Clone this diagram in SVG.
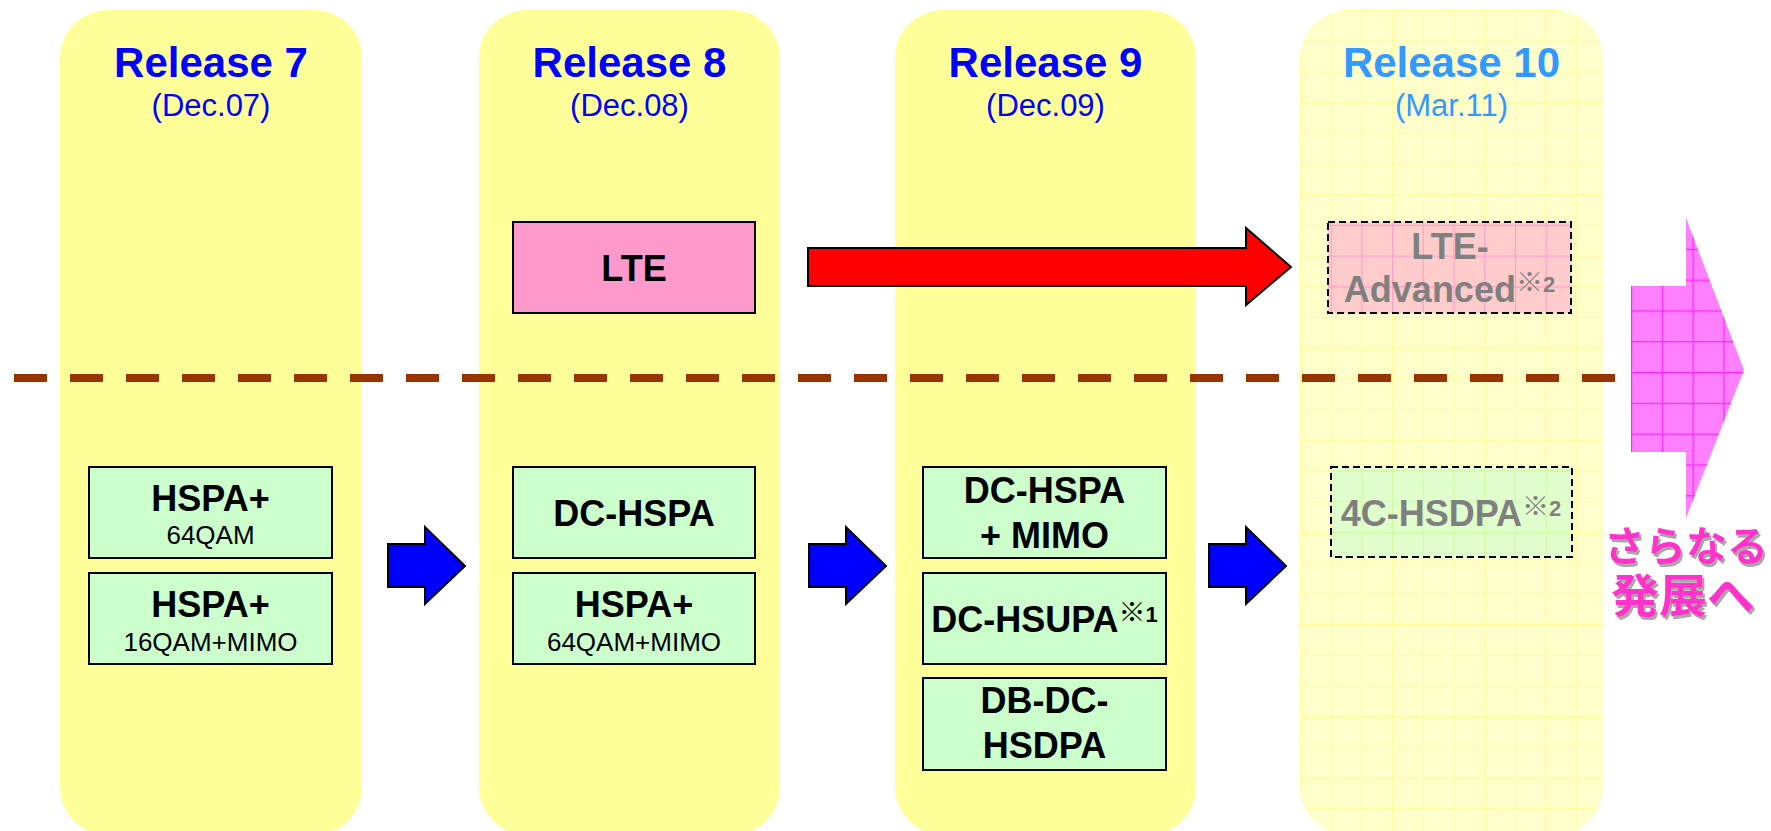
<svg xmlns="http://www.w3.org/2000/svg" width="1771" height="831" viewBox="0 0 1771 831">
  <style>
    .col { fill: #FFFF99; }
    .col4 { fill: #FFFFCC; }
    .title { font-family: "Liberation Sans", Arial, sans-serif; font-weight: bold; font-size: 42px; text-anchor: middle; fill: #0000FF; }
    .date { font-family: "Liberation Sans", Arial, sans-serif; font-size: 31px; text-anchor: middle; fill: #0000FF; }
    .future { fill: #3399FF; }
    .box { fill: #CCFFCC; stroke: #000; stroke-width: 2; }
    .lte { fill: #FF99CC; stroke: #000; stroke-width: 2; }
    .dash { fill: none; stroke: #000; stroke-width: 2; stroke-dasharray: 7 4; }
    .lbl { font-family: "Liberation Sans", Arial, sans-serif; font-weight: bold; font-size: 36px; text-anchor: middle; fill: #000; }
    .sub { font-family: "Liberation Sans", Arial, sans-serif; font-size: 26px; text-anchor: middle; fill: #000; }
    .grey { fill: #808080; }
    .sup { font-size: 22px; }
    .kome { font-family: "Noto Sans CJK JP", sans-serif; font-size: 27px; }
    .blue { fill: #0000FF; stroke: #000; stroke-width: 2; stroke-linejoin: miter; }
    .red { fill: #FF0000; stroke: #000; stroke-width: 2; stroke-linejoin: miter; }
    .jp { font-family: "Noto Sans CJK JP", sans-serif; font-weight: bold; fill: #FF33CC; }
  </style>
  <defs>
    <pattern id="gridY" patternUnits="userSpaceOnUse" x="1300" y="10" width="30.7" height="30.7">
      <rect width="30.7" height="1" fill="#FFFF99"/>
      <rect width="1" height="30.7" fill="#FFFF99"/>
    </pattern>
    <pattern id="gridP" patternUnits="userSpaceOnUse" x="1300" y="10" width="30.7" height="30.7">
      <rect width="30.7" height="1" fill="#FF99CC"/>
      <rect width="1" height="30.7" fill="#FF99CC"/>
    </pattern>
    <pattern id="gridG" patternUnits="userSpaceOnUse" x="1300" y="10" width="30.7" height="30.7">
      <rect width="30.7" height="1" fill="#CCFF99"/>
      <rect width="1" height="30.7" fill="#CCFF99"/>
    </pattern>
    <pattern id="gridM" patternUnits="userSpaceOnUse" x="1631" y="218" width="30.8" height="30.8">
      <rect width="30.8" height="1.2" fill="#FF22FF"/>
      <rect width="1.2" height="30.8" fill="#FF22FF"/>
    </pattern>
    <filter id="shadow" x="-10%" y="-10%" width="130%" height="130%">
      <feOffset in="SourceAlpha" dx="2" dy="3" result="off"/>
      <feFlood flood-color="#A8A8A8"/>
      <feComposite in2="off" operator="in" result="sh"/>
      <feMerge><feMergeNode in="sh"/><feMergeNode in="SourceGraphic"/></feMerge>
    </filter>
  </defs>

  <rect width="1771" height="831" fill="#FFFFFF"/>

  <!-- release columns -->
  <g id="release7">
    <rect class="col" x="60" y="10" width="302" height="825" rx="48"/>
    <text class="title" x="211" y="77">Release 7</text>
    <text class="date" x="211" y="116">(Dec.07)</text>
  </g>
  <g id="release8">
    <rect class="col" x="479" y="10" width="301" height="825" rx="48"/>
    <text class="title" x="629.5" y="77">Release 8</text>
    <text class="date" x="629.5" y="116">(Dec.08)</text>
  </g>
  <g id="release9">
    <rect class="col" x="895" y="10" width="301" height="825" rx="48"/>
    <text class="title" x="1045.5" y="77">Release 9</text>
    <text class="date" x="1045.5" y="116">(Dec.09)</text>
  </g>
  <g id="release10">
    <rect class="col4" x="1300" y="10" width="303" height="825" rx="48"/>
    <rect x="1300" y="10" width="303" height="825" rx="48" fill="url(#gridY)"/>
    <text class="title future" x="1451.5" y="77">Release 10</text>
    <text class="date future" x="1451.5" y="116">(Mar.11)</text>
  </g>

  <!-- LTE / HSPA boundary -->
  <g id="separator">
    <line x1="14" y1="378" x2="1615" y2="378" stroke="#993300" stroke-width="8" stroke-dasharray="33 23"/>
  </g>

  <!-- Release 7 features -->
  <g id="hspa-64qam">
    <rect class="box" x="89" y="467" width="243" height="91"/>
    <text class="lbl" x="210.5" y="511">HSPA+</text>
    <text class="sub" x="210.5" y="544">64QAM</text>
  </g>
  <g id="hspa-16qam-mimo">
    <rect class="box" x="89" y="573" width="243" height="91"/>
    <text class="lbl" x="210.5" y="617">HSPA+</text>
    <text class="sub" x="210.5" y="651">16QAM+MIMO</text>
  </g>

  <!-- Release 8 features -->
  <g id="lte">
    <rect class="lte" x="513" y="222" width="242" height="91"/>
    <text class="lbl" x="634" y="281">LTE</text>
  </g>
  <g id="dc-hspa">
    <rect class="box" x="513" y="467" width="242" height="91"/>
    <text class="lbl" x="634" y="526">DC-HSPA</text>
  </g>
  <g id="hspa-64qam-mimo">
    <rect class="box" x="513" y="573" width="242" height="91"/>
    <text class="lbl" x="634" y="617">HSPA+</text>
    <text class="sub" x="634" y="651">64QAM+MIMO</text>
  </g>

  <!-- Release 9 features -->
  <g id="dc-hspa-mimo">
    <rect class="box" x="923" y="467" width="243" height="91"/>
    <text class="lbl" x="1044.5" y="503">DC-HSPA</text>
    <text class="lbl" x="1044.5" y="548">+ MIMO</text>
  </g>
  <g id="dc-hsupa">
    <rect class="box" x="923" y="573" width="243" height="91"/>
    <text class="lbl" x="1044.5" y="632">DC-HSUPA<tspan class="kome" dy="-10">※</tspan><tspan class="sup">1</tspan></text>
  </g>
  <g id="db-dc-hsdpa">
    <rect class="box" x="923" y="678" width="243" height="92"/>
    <text class="lbl" x="1044.5" y="713">DB-DC-</text>
    <text class="lbl" x="1044.5" y="758">HSDPA</text>
  </g>

  <!-- Release 10 features -->
  <g id="lte-advanced">
    <rect x="1328" y="222" width="243" height="91" fill="#FFCCCC"/>
    <rect x="1328" y="222" width="243" height="91" fill="url(#gridP)"/>
    <rect class="dash" x="1328" y="222" width="243" height="91"/>
    <text class="lbl grey" x="1450" y="259">LTE-</text>
    <text class="lbl grey" x="1449.5" y="302">Advanced<tspan class="kome" dy="-10">※</tspan><tspan class="sup">2</tspan></text>
  </g>
  <g id="4c-hsdpa">
    <rect x="1331" y="467" width="241" height="90" fill="#E0FFCC"/>
    <rect x="1331" y="467" width="241" height="90" fill="url(#gridG)"/>
    <rect class="dash" x="1331" y="467" width="241" height="90"/>
    <text class="lbl grey" x="1451" y="526">4C-HSDPA<tspan class="kome" dy="-10">※</tspan><tspan class="sup">2</tspan></text>
  </g>

  <!-- further evolution -->
  <g id="beyond">
    <path d="M1631 286 H1686 V218 L1744 370 L1686 518 V452 H1631 Z" fill="#FF80FF"/>
    <path d="M1631 286 H1686 V218 L1744 370 L1686 518 V452 H1631 Z" fill="url(#gridM)"/>
    <g filter="url(#shadow)">
      <text class="jp" x="1604" y="561" font-size="41">さらなる</text>
      <text class="jp" x="1611" y="612" font-size="46" textLength="144" lengthAdjust="spacingAndGlyphs">発展へ</text>
    </g>
  </g>

  <!-- progression arrows -->
  <g id="connectors">
    <path class="red" d="M808 248 H1246 V228 L1291 267 L1246 305 V286 H808 Z"/>
    <path class="blue" d="M388 544 H425 V527 L465 566 L425 604 V587 H388 Z"/>
    <path class="blue" d="M809 544 H846 V527 L886 566 L846 604 V587 H809 Z"/>
    <path class="blue" d="M1209 544 H1246 V527 L1286 566 L1246 604 V587 H1209 Z"/>
  </g>
</svg>
